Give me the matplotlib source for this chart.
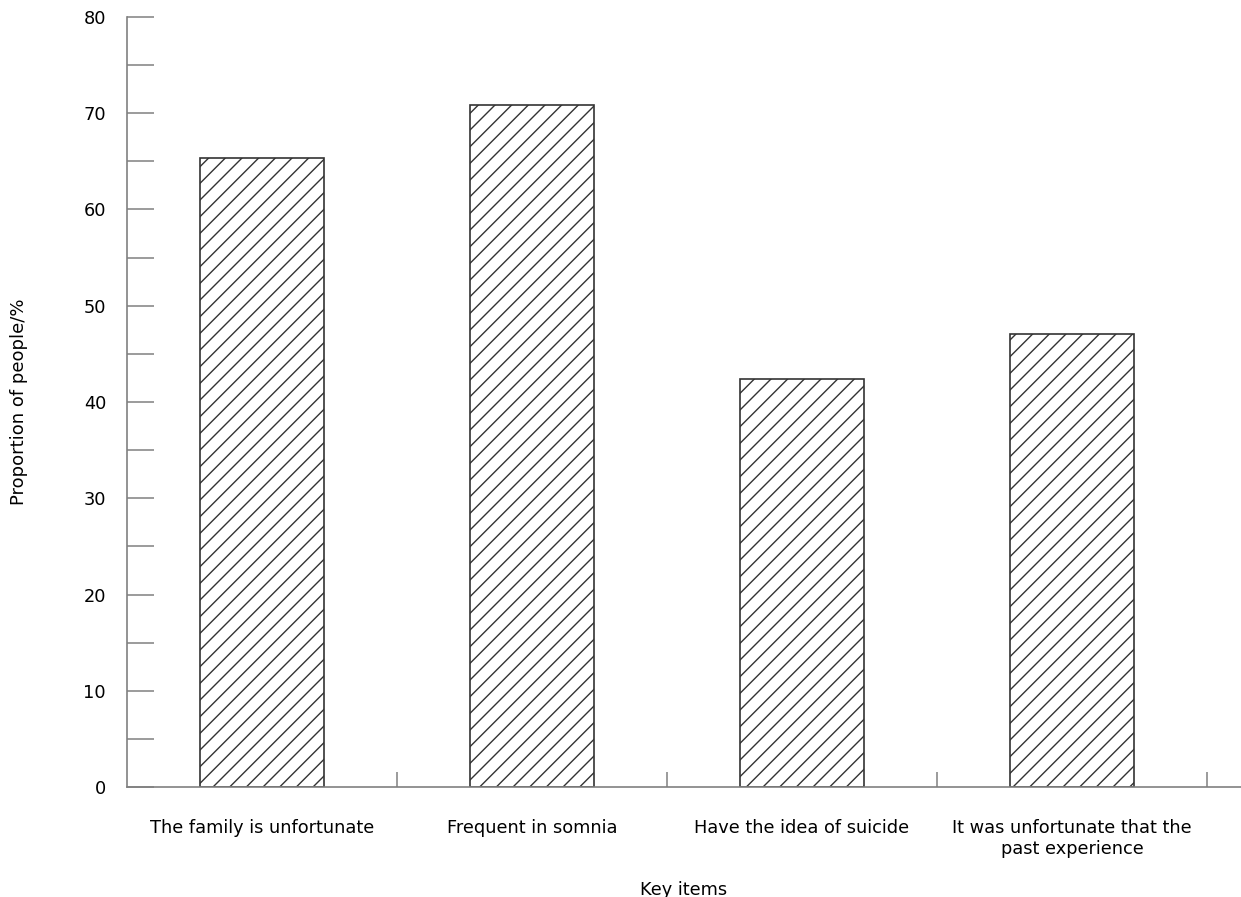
import numpy as np
import matplotlib
matplotlib.use("Agg")
import matplotlib.pyplot as plt

# values
items = ['The family is unfortunate', 'Frequent in somnia',
         'Have the idea of suicide', 'It was unfortunate that the\npast experience']
proportion = [65.3, 70.9, 42.4, 47.1]
y_labels = [0, 10, 20, 30, 40, 50, 60, 70, 80]

plt.rcParams['font.family'] = ['DejaVu Sans']
plt.rcParams['hatch.linewidth'] = 1.0
plt.rcParams['hatch.color'] = '#333333'

fig = plt.figure(figsize=(12.41, 8.97), dpi=100)
ax = fig.add_axes([0.1023, 0.1226, 0.8977, 0.8585])

x = np.arange(len(items))
ax.bar(x, proportion, width=0.46, facecolor='white', edgecolor='#333333',
       linewidth=1.2, hatch='//')

ax.set_xlim(-0.5, -0.5 + 1114 / 270)
ax.set_ylim(0, 80)

ax.spines['top'].set_visible(False)
ax.spines['right'].set_visible(False)
for s in ('left', 'bottom'):
    ax.spines[s].set_color('#808080')
    ax.spines[s].set_linewidth(1.2)

ax.set_yticks(y_labels)
ax.set_yticks(np.arange(5, 80, 10), minor=True)
ax.tick_params(axis='y', which='both', direction='in', length=19.5,
               width=1.1, color='#808080', labelsize=12.8, pad=15)

ax.set_xticks(x)
ax.set_xticklabels(items, fontsize=12.8)
ax.set_xticks(np.arange(0.5, len(items)), minor=True)
ax.tick_params(axis='x', which='major', length=0, pad=23)
ax.tick_params(axis='x', which='minor', direction='in', length=11,
               width=1.1, color='#808080')

ax.set_ylabel('Proportion of people/%', fontsize=13, labelpad=40)
ax.set_xlabel('Key items', fontsize=12.8, labelpad=17)

fig.savefig('out.png', dpi=100)
